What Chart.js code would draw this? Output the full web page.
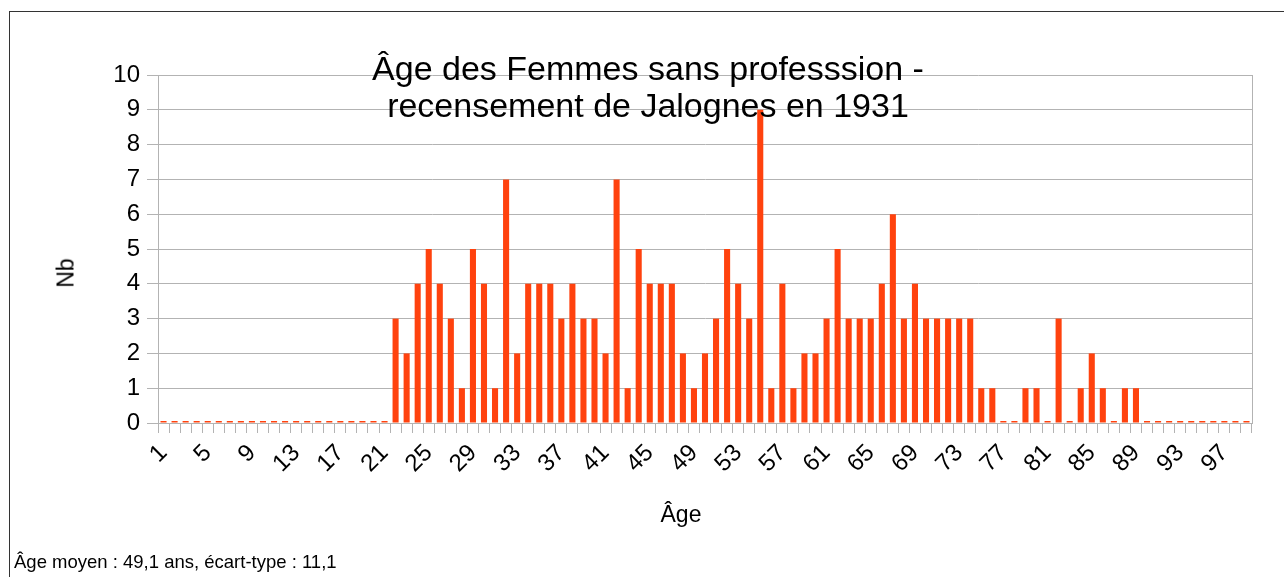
<!DOCTYPE html>
<html>
<head>
<meta charset="utf-8">
<script src="https://cdn.jsdelivr.net/npm/chart.js@4.4.0/dist/chart.umd.min.js"></script>
<style>
  body { margin: 0; background: #fff; font-family: "Liberation Sans", Arial, sans-serif; color: #000; }
  #wrap { position: relative; width: 1284px; height: 577px; overflow: hidden; }
  #frame { position: absolute; left: 9px; top: 11px; width: 1300px; height: 600px; border-left: 1px solid #333; border-top: 1px solid #333; }
  #ageChart { position: absolute; left: 0; top: 0; }
  .txt { position: absolute; white-space: nowrap; line-height: 1; }
  #title { left: 0; width: 1296px; top: 50px; text-align: center; font-size: 34px; line-height: 37px; }
  #ytitle { left: 66px; top: 273px; font-size: 23px; transform: translate(-50%, -50%) rotate(-90deg); }
  #xtitle { left: 681px; top: 503px; font-size: 23px; transform: translateX(-50%); }
  #note { left: 14px; top: 553px; font-size: 18.5px; }
</style>
</head>
<body>
<div id="wrap">
  <div id="frame"></div>
  <canvas id="ageChart" width="1284" height="577"></canvas>
  <div class="txt" id="title">Âge des Femmes sans professsion -<br>recensement de Jalognes en 1931</div>
  <div class="txt" id="ytitle">Nb</div>
  <div class="txt" id="xtitle">Âge</div>
  <div class="txt" id="note">Âge moyen : 49,1 ans, écart-type : 11,1</div>
</div>
<script>
// ages 1 to 99
const ages = Array.from({ length: 99 }, (_, i) => String(i + 1));

// number of women per age
const counts = [
  0, 0, 0, 0, 0, 0, 0, 0, 0, 0,
  0, 0, 0, 0, 0, 0, 0, 0, 0, 0,
  0, 3, 2, 4, 5, 4, 3, 1, 5, 4,
  1, 7, 2, 4, 4, 4, 3, 4, 3, 3,
  2, 7, 1, 5, 4, 4, 4, 2, 1, 2,
  3, 5, 4, 3, 9, 1, 4, 1, 2, 2,
  3, 5, 3, 3, 3, 4, 6, 3, 4, 3,
  3, 3, 3, 3, 1, 1, 0, 0, 1, 1,
  0, 3, 0, 1, 2, 1, 0, 1, 1, 0,
  0, 0, 0, 0, 0, 0, 0, 0, 0
];

// labels written under the x axis
const shownTicks = ['1', '5', '9', '13', '17', '21', '25', '29', '33', '37', '41', '45',
  '49', '53', '57', '61', '65', '69', '73', '77', '81', '85', '89', '93', '97'];

const gridColor = '#b3b3b3';

const ctx = document.getElementById('ageChart');
new Chart(ctx, {
  type: 'bar',
  data: {
    labels: ages,
    datasets: [
      {
        label: 'Nb',
        data: counts,
        backgroundColor: '#ff420e',
        borderWidth: 0,
        barPercentage: 0.55,
        categoryPercentage: 1,
        minBarLength: 2,
      },
    ],
  },
  options: {
    responsive: false,
    animation: false,
    layout: { padding: { top: 75, right: 32, left: 0, bottom: 0 } },
    plugins: {
      legend: { display: false },
      tooltip: { enabled: false },
    },
    scales: {
      x: {
        offset: true,
        grid: { offset: true, drawOnChartArea: false, tickLength: 10, color: gridColor },
        border: { color: gridColor },
        ticks: {
          autoSkip: false,
          minRotation: 45,
          maxRotation: 45,
          padding: 6,
          color: '#000',
          font: { family: 'Liberation Sans', size: 24 },
          callback: function (value) {
            const lab = this.getLabelForValue(value);
            return shownTicks.includes(lab) ? lab : '';
          },
        },
        afterFit: (scale) => { scale.height = 154; },
      },
      y: {
        min: 0,
        max: 10,
        grid: { color: gridColor, tickLength: 11 },
        border: { color: gridColor },
        ticks: {
          stepSize: 1,
          padding: 7,
          color: '#000',
          font: { family: 'Liberation Sans', size: 24 },
        },
        afterFit: (scale) => { scale.width = 158; },
      },
      yRight: {
        position: 'right',
        min: 0,
        max: 10,
        grid: { display: false },
        ticks: { display: false },
        border: { color: gridColor },
        afterFit: (scale) => { scale.width = 0; },
      },
    },
  },
});
</script>
</body>
</html>
